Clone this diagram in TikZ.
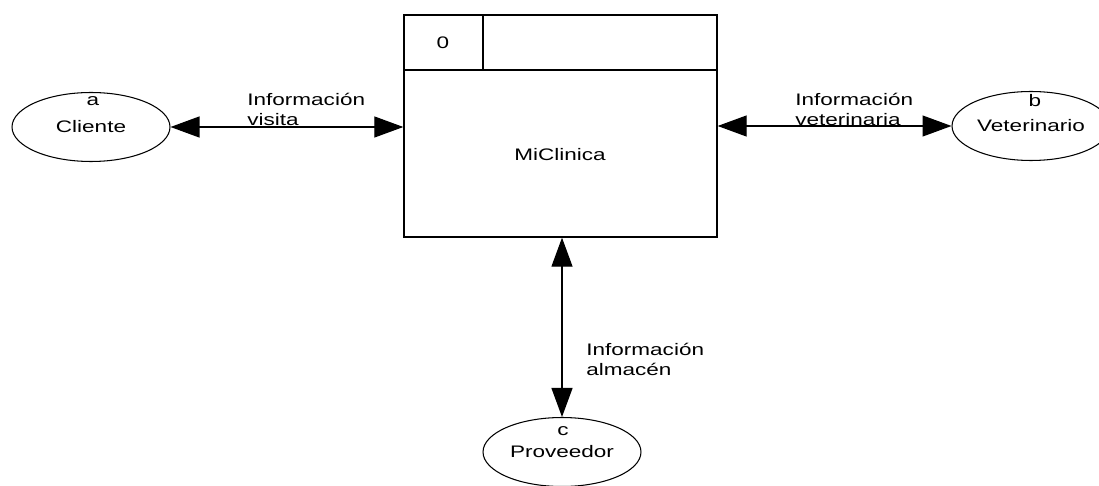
\documentclass[tikz,border=0pt]{standalone}
\usepackage{fontspec}
\newfontfamily\dfdfont[FakeStretch=1.35]{Liberation Sans}
\usetikzlibrary{shapes.geometric,arrows.meta}

\tikzset{
  entity/.style={draw, ellipse, line width=0.6pt, minimum width=3.16cm, minimum height=1.38cm, inner sep=0pt},
  process/.style={draw, rectangle, line width=0.8pt, minimum width=6.26cm, minimum height=4.44cm, inner sep=0pt},
  flow/.style={line width=0.7pt, {Triangle[length=0.58cm,width=0.42cm]}-{Triangle[length=0.58cm,width=0.42cm]}},
  flowlabel/.style={anchor=north west, align=left, inner sep=0pt}
}

\begin{document}
\begin{tikzpicture}[
    x=0.02cm, y=-0.02cm,
    every node/.style={font=\dfdfont\fontsize{9.5}{11.5}\selectfont}
]
\useasboundingbox (0,0) rectangle (1099,486);

% Process
\node[process] (proc) at (560.5,126) {};
\node (procname) at (560,155) {MiClinica};
\node (procid) at (443,43) {0};
\draw[line width=0.8pt] (404,70) -- (717,70);
\draw[line width=0.8pt] (483,15) -- (483,70);

% Entities
\node[entity] (cliente) at (91,127) {Cliente};
\node (a) at (93,101) {a};

\node[entity] (veterinario) at (1031,126) {Veterinario};
\node (b) at (1035,101) {b};

\node[entity] (proveedor) at (562,452) {Proveedor};
\node (c) at (563,431) {c};

% Flows
\draw[flow] (cliente.east) -- (cliente.east -| proc.west);
\draw[flow] (veterinario.west -| proc.east) -- (veterinario.west);
\draw[flow] (proveedor.north |- proc.south) -- (proveedor.north);

% Flow labels
\node[flowlabel] (lvisita) at (247,93) {Información\\visita};
\node[flowlabel] (lvet) at (795,93) {Información\\veterinaria};
\node[flowlabel] (lalm) at (586,343) {Información\\almacén};

\end{tikzpicture}
\end{document}
